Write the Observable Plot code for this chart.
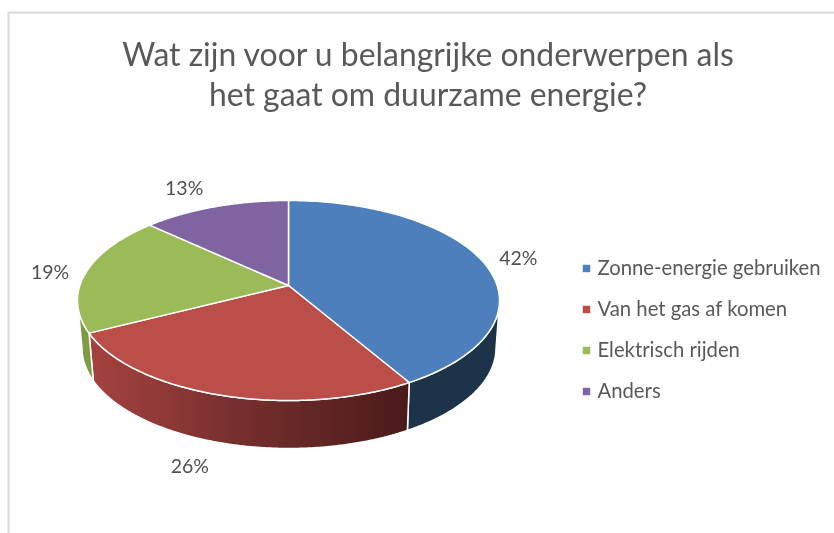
<!DOCTYPE html>
<html lang="nl"><head><meta charset="utf-8">
<script src="https://cdn.jsdelivr.net/npm/d3@7"></script>
<script src="https://cdn.jsdelivr.net/npm/@observablehq/plot@0.6"></script>
<style>html,body{margin:0;padding:0;background:#fff}svg{display:block;filter:blur(.35px)}</style>
</head><body><div id="chart"></div>
<script>
// Data (slice sizes; labels show them rounded)
const titleLines = ["Wat zijn voor u belangrijke onderwerpen als", "het gaat om duurzame energie?"];
const categories = ["Zonne-energie gebruiken", "Van het gas af komen", "Elektrisch rijden", "Anders"];
const percentages = [41.6, 25.9, 19.4, 13.1];
// Styles and layout
const topColors = ["#4c7fbb", "#bc4e4a", "#9bbb59", "#8064a2"];
const sideColors = ["#1d3349", "url(#redSide)", "#7f9c45", "#8064a2"];
const labelOffsets = [[36, -2], [-30, 24], [-36, 0], [-31, -18]];
const legendY = [268, 309, 350, 391];
const font = "Lato, 'Open Sans', sans-serif";
const top3d = {cx: 288, cy: 300, rx: 211, ry: 100};
const bottom3d = {cx: 288.5, cy: 347.5, rx: 207, ry: 100.5};
const tilt = 0.15;

// Circle → ellipse with the perspective shift of the 3-D pie's centre
function project(turn, e) {
  const a = turn * 2 * Math.PI, sx = Math.sin(a), cy = Math.cos(a);
  const den = 1 + tilt * cy;
  const px = sx * Math.sqrt(1 - tilt * tilt) / den, py = (cy + tilt) / den;
  return {x: e.cx + e.rx * px, y: e.cy - e.ry * py, py};
}
const total = d3.sum(percentages);
const edges = d3.cumsum([0, ...percentages]).map(v => v / total);
const arc = (a, b, e) => d3.range(0, 121).map(i => project(a + (b - a) * i / 120, e));
const centre = {x: top3d.cx, y: top3d.cy - top3d.ry * tilt};

const slices = percentages.map((p, i) => {
  const pts = arc(edges[i], edges[i + 1], top3d);
  return [centre, ...pts, centre];
});
const walls = percentages.map((p, i) => {
  const keep = d3.range(0, 241).map(k => edges[i] + (edges[i + 1] - edges[i]) * k / 240)
    .filter(t => project(t, top3d).py <= 0);
  if (!keep.length) return [];
  const upper = keep.map(t => project(t, top3d));
  const lower = keep.map(t => project(t, bottom3d)).reverse();
  return [...upper, ...lower, upper[0]];
});
const labels = percentages.map((p, i) => {
  const m = project((edges[i] + edges[i + 1]) / 2, top3d);
  const wallDrop = m.py < 0 ? bottom3d.cy - top3d.cy : 0;
  return {text: Math.round(p) + "%", x: m.x + labelOffsets[i][0], y: m.y + wallDrop + labelOffsets[i][1]};
});
const legend = categories.map((c, i) => ({name: c, color: topColors[i], y: legendY[i]}));
const titleRows = titleLines.map((t, i) => ({t, y: 55 + i * 40}));

const gradient = () => {
  const s = d3.create("svg:defs");
  const g = s.append("linearGradient").attr("id", "redSide");
  [["0%", "#a5423f"], ["45%", "#78302e"], ["100%", "#4a1a1a"]].forEach(([o, c]) =>
    g.append("stop").attr("offset", o).attr("stop-color", c));
  return s.node();
};

const chart = Plot.plot({
  width: 834, height: 533, margin: 0,
  x: {domain: [0, 834], range: [0, 834], axis: null},
  y: {domain: [0, 533], range: [0, 533], axis: null},
  style: {background: "#fff", fontFamily: font},
  marks: [
    gradient,
    Plot.ruleY([12], {x1: 8, x2: 834, stroke: "#d9d9d9", strokeWidth: 2}),
    Plot.ruleX([8], {y1: 12, y2: 533, stroke: "#d9d9d9", strokeWidth: 2}),
    ...walls.map((w, i) => Plot.line(w, {x: "x", y: "y", fill: sideColors[i], stroke: "#fff", strokeWidth: 1.5})),
    ...slices.map((s, i) => Plot.line(s, {x: "x", y: "y", fill: topColors[i], stroke: "#fff", strokeWidth: 1.5})),
    Plot.text(titleRows, {x: () => 427.5, y: "y", text: "t", fontSize: 31.9, fill: "#595959", fontFamily: font}),
    Plot.text(labels, {x: "x", y: "y", text: "text", fontSize: 19.5, fill: "#505050", fontFamily: font}),
    Plot.dot(legend, {x: () => 586, y: "y", symbol: "square", r: 4.2, fill: "color"}),
    Plot.text(legend, {x: () => 597, y: "y", text: "name", textAnchor: "start", fontSize: 20.3, fill: "#595959", fontFamily: font})
  ]
});
document.getElementById("chart").append(chart);
</script></body></html>
